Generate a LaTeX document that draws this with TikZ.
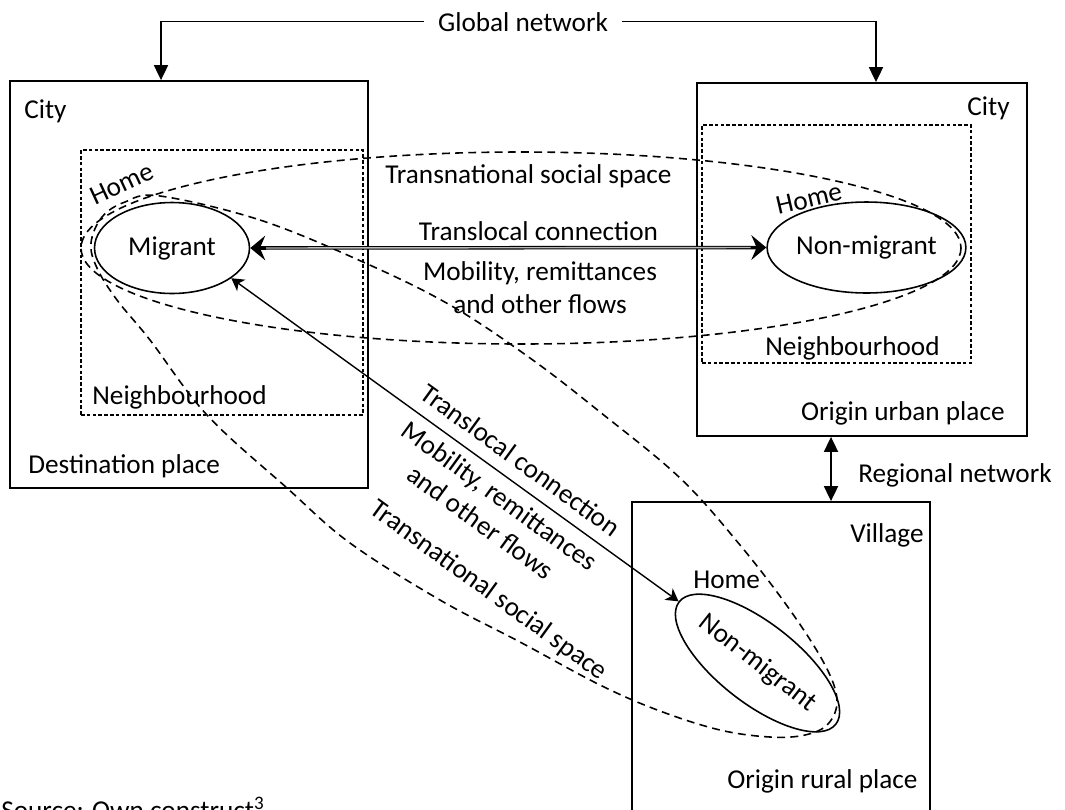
\documentclass[tikz,border=0pt]{standalone}
\usepackage{fontspec}
\setmainfont{Carlito}
\usetikzlibrary{arrows.meta,shapes.geometric}
\begin{document}
\begin{tikzpicture}[x=0.02cm,y=-0.02cm,
  every node/.style={font=\fontsize{15.5}{18.5}\selectfont, inner sep=0pt},
  place/.style={draw, line width=1.1pt, rectangle},
  nbhd/.style={draw, line width=0.9pt, rectangle, dash pattern=on 2pt off 1.3pt},
  actor/.style={draw, line width=0.9pt, ellipse},
  space/.style={line width=0.9pt, dash pattern=on 4.5pt off 3pt},
  link/.style={line width=0.9pt},
  bigtip/.style={-{Triangle[length=8.5pt,width=8pt]}},
  bothtip/.style={{Triangle[length=8.5pt,width=8pt]}-{Triangle[length=8.5pt,width=8pt]}},
  flowtip/.style={{Stealth[length=8.5pt,width=14pt,inset=3pt]}-{Stealth[length=8.5pt,width=14pt,inset=3pt]}},
  smalltip/.style={{Stealth[length=7pt,width=8pt,inset=2pt]}-{Stealth[length=7pt,width=8pt,inset=2pt]}}]
\useasboundingbox (0,0) rectangle (1065,809);
\clip (0,0) rectangle (1065,809);

% places
\node[place, minimum width=7.16cm, minimum height=8.14cm] (cityL) at (189,284.5) {};
\node[place, minimum width=6.6cm, minimum height=7.06cm] (cityR) at (862,259.5) {};
\node[place, minimum width=5.96cm, minimum height=7.16cm] (village) at (781,681) {};
\node[nbhd, minimum width=5.64cm, minimum height=5.3cm] (nbhdL) at (222,282.5) {};
\node[nbhd, minimum width=5.38cm, minimum height=4.76cm] (nbhdR) at (836.5,244) {};

% transnational social spaces
\draw[space] (521,248) ellipse [x radius=440, y radius=96];
\draw[space] plot[smooth cycle, tension=0.6] coordinates {
  (160,196) (260,220) (363,262) (450,305) (530,358) (600,412) (680,478)
  (740,545) (790,610) (825,665) (837,700) (828,724) (805,735) (770,737)
  (720,730) (660,711) (600,685) (520,642) (440,600) (350,543) (287,488)
  (207,415) (150,340) (117,300) (97,268) (91,243) (102,217) (125,202)};

% actors
\node[actor, minimum width=3.1cm, minimum height=1.82cm] (mig) at (172,248) {Migrant};
\node[actor, minimum width=3.34cm, minimum height=1.82cm] (nonmigR) at (866.5,247.5) {Non-migrant};
\node[actor, minimum width=3.6cm, minimum height=1.6cm, rotate=-38] (nonmigV) at (757.5,663) {Non-migrant};

% labels of places
\node[anchor=base west] (cityLlab) at (24,118) {City};
\node[anchor=base east] (cityRlab) at (1010,115) {City};
\node[anchor=base east] (villab) at (924,542) {Village};
\node[anchor=base west] (nbhdLlab) at (92,404) {Neighbourhood};
\node[anchor=base west] (nbhdRlab) at (765,355) {Neighbourhood};
\node[anchor=base west] (destlab) at (28,473) {Destination place};
\node[anchor=base east] (urbanlab) at (1005,420) {Origin urban place};
\node[anchor=base west] (rurallab) at (727,788) {Origin rural place};
\node[rotate=25] (homeL) at (122,184) {Home};
\node[rotate=13] (homeR) at (809,199) {Home};
\node[anchor=base west] (homeV) at (693,588) {Home};

% networks
\node[anchor=base, inner xsep=8pt] (gn) at (523,31) {Global network};
\draw[link, bigtip] (gn.west) -| ([xshift=-0.56cm]cityL.north);
\draw[link, bigtip] (gn.east) -| ([xshift=0.28cm]cityR.north);
\draw[link, bothtip] ([xshift=-0.62cm]cityR.south) -- ([xshift=-0.62cm]cityR.south |- village.north);
\node[anchor=base west] (rn) at (858,482) {Regional network};

% translocal connections: a double line (black rim, grey core) and a single line
\draw[line width=2pt, flowtip] (mig.east) -- (nonmigR.west);
\draw[line width=0.8pt, gray!55, shorten <=9pt, shorten >=9pt] (mig.east) -- (nonmigR.west);
\draw[line width=0.8pt, smalltip] (mig.-27) -- (nonmigV.west);

% horizontal labels
\node (tssH) at (528.5,176) {Transnational social space};
\node (tcH) at (538.5,231) {Translocal connection};
\node[align=center, anchor=base] (flowH) at (540,313) {Mobility, remittances\\and other flows};

% diagonal labels
\node[rotate=-36] (tcD) at (521,460) {Translocal connection};
\node[rotate=-36, align=center] (flowD) at (490.5,509) {Mobility, remittances\\and other flows};
\node[rotate=-36] (tssD) at (488.5,591) {Transnational social space};

% source
\node[anchor=base west] (src) at (1,819) {Source: Own construct\textsuperscript{3}};
\end{tikzpicture}
\end{document}
